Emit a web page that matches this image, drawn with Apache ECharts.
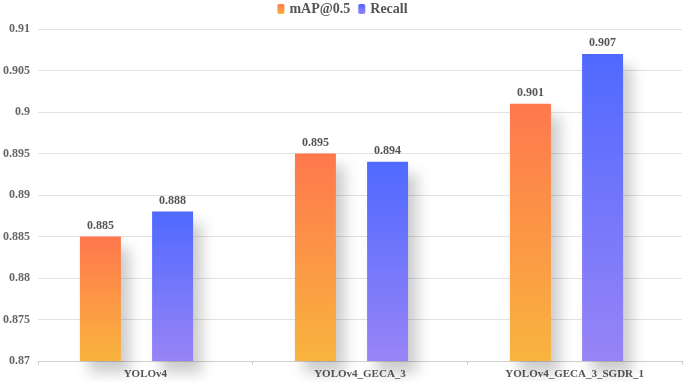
<!DOCTYPE html>
<html>
<head>
<meta charset="utf-8">
<script src="https://cdn.jsdelivr.net/npm/echarts@6/dist/echarts.min.js"></script>
<style>
  html, body { margin: 0; padding: 0; background: #fff; }
  #chart { width: 685px; height: 382px; }
</style>
</head>
<body>
<div id="chart"></div>
<script>
const categories = ['YOLOv4', 'YOLOv4_GECA_3', 'YOLOv4_GECA_3_SGDR_1'];
const mapValues = [0.885, 0.895, 0.901];
const recallValues = [0.888, 0.894, 0.907];
const yMin = 0.87;
const yMax = 0.91;
const yStep = 0.005;

const font = '"Liberation Serif", "Times New Roman", serif';

const orangeGrad = new echarts.graphic.LinearGradient(0, 0, 0, 1, [
    { offset: 0, color: '#ff784d' },
    { offset: 1, color: '#f8b43e' }
]);
const blueGrad = new echarts.graphic.LinearGradient(0, 0, 0, 1, [
    { offset: 0, color: '#4f69ff' },
    { offset: 1, color: '#9884f6' }
]);

const chart = echarts.init(document.getElementById('chart'));

const barLabel = {
    show: true,
    position: 'top',
    distance: 5,
    fontFamily: font,
    fontWeight: 'bold',
    fontSize: 12,
    color: '#555'
};

// soft grey shadow to the lower right of each bar
const shadowStyle = {
    shadowColor: 'rgba(0,0,0,0.2)',
    shadowBlur: 14,
    shadowOffsetX: 9,
    shadowOffsetY: 12
};

chart.setOption({
    animation: false,
    legend: {
        top: -3,
        left: 'center',
        itemWidth: 7,
        itemHeight: 10,
        itemGap: 8,
        textStyle: { fontFamily: font, fontWeight: 'bold', fontSize: 14, color: '#555' },
        data: ['mAP@0.5', 'Recall']
    },
    grid: [
        { left: 37, right: 3, top: 29, bottom: 21 },
        { left: 29, right: 11, top: 29, bottom: 21 }
    ],
    xAxis: [
        {
            type: 'category',
            gridIndex: 0,
            data: categories,
            axisLine: { lineStyle: { color: '#d0d0d0' } },
            axisTick: { show: true, length: 4, lineStyle: { color: '#d0d0d0' } },
            axisLabel: { fontFamily: font, fontWeight: 'bold', fontSize: 11, color: '#555', margin: 8 }
        },
        {
            type: 'category',
            gridIndex: 1,
            data: categories,
            show: false
        }
    ],
    yAxis: [
        {
            type: 'value',
            gridIndex: 0,
            min: yMin,
            max: yMax,
            interval: yStep,
            axisLine: { show: false },
            axisTick: { show: false },
            splitLine: { lineStyle: { color: '#e2e2e2' } },
            axisLabel: { fontFamily: font, fontWeight: 'bold', fontSize: 12, color: '#666', margin: 8 }
        },
        {
            type: 'value',
            gridIndex: 1,
            min: yMin,
            max: yMax,
            interval: yStep,
            show: false,
            splitLine: { show: false }
        }
    ],
    series: [
        {
            name: 'mAP@0.5',
            type: 'bar',
            xAxisIndex: 1,
            yAxisIndex: 1,
            data: mapValues,
            barWidth: 41,
            barGap: '76%',
            itemStyle: Object.assign({ color: orangeGrad }, shadowStyle),
            label: barLabel
        },
        {
            name: 'Recall',
            type: 'bar',
            xAxisIndex: 1,
            yAxisIndex: 1,
            data: recallValues,
            barWidth: 41,
            barGap: '76%',
            itemStyle: Object.assign({ color: blueGrad }, shadowStyle),
            label: barLabel
        }
    ]
});
</script>
</body>
</html>
